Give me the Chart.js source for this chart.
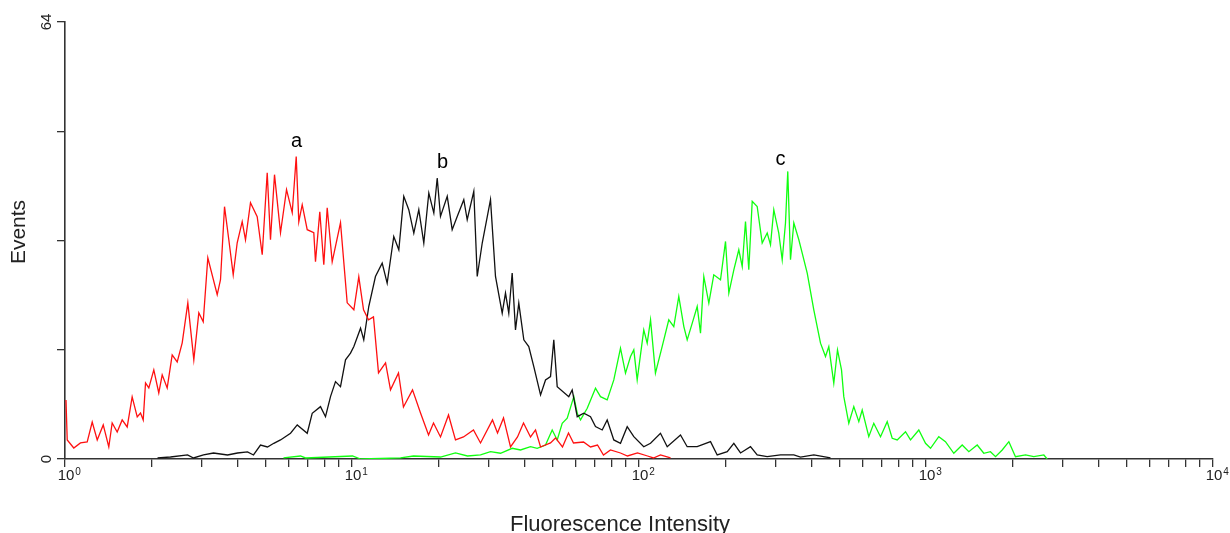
<!DOCTYPE html>
<html>
<head>
<meta charset="utf-8">
<script src="https://cdn.jsdelivr.net/npm/chart.js@4.4.1/dist/chart.umd.min.js"></script>
<style>
  html, body { margin: 0; padding: 0; background: #ffffff; }
  #wrap { width: 1230px; height: 533px; position: relative; }
</style>
</head>
<body>
<div id="wrap"><canvas id="c" width="1230" height="533"></canvas></div>
<script>
// ---- Data (fluorescence intensity, events) ----
const redX = [1.008,1.018,1.073,1.132,1.195,1.244,1.295,1.359,1.421,1.460,
  1.520,1.582,1.647,1.714,1.785,1.833,1.873,1.908,1.959,2.039,
  2.122,2.181,2.270,2.363,2.460,2.561,2.679,2.811,2.926,3.031,
  3.145,3.391,3.482,3.596,3.722,3.856,3.981,4.144,4.255,4.429,
  4.674,4.866,5.065,5.200,5.370,5.635,5.914,6.190,6.392,6.526,
  6.707,6.982,7.360,7.461,7.723,7.975,8.196,8.531,9.119,9.622,
  10.15,10.56,10.97,11.42,11.88,12.37,13.09,13.62,14.52,15.11,
  16.25,17.33,18.48,19.23,20.34,21.69,22.94,24.46,26.50,28.04,
  30.87,32.14,33.72,35.67,37.73,39.59,41.88,43.60,45.39,49.17,
  51.19,54.13,56.80,59.13,64.07,67.77,71.68,75.20,79.55,86.20,
  91.18,98.8,107.1,112.3,118.8,128.8];
const redY = [8.65,2.79,1.61,2.35,2.49,5.42,2.79,4.99,1.76,5.28,
  3.96,5.72,4.69,9.09,6.16,6.74,5.72,11.14,10.41,13.05,
  9.68,12.32,10.41,15.25,14.22,17.01,22.87,14.52,21.41,20.09,
  29.47,24.05,26.25,36.95,32.11,26.98,31.67,34.75,32.11,37.53,
  35.48,29.91,41.93,32.11,41.64,33.14,39.44,36.07,44.28,34.75,
  37.24,33.58,33.14,28.88,36.22,28.44,36.80,28.88,34.60,22.87,
  21.85,26.68,21.85,20.38,20.82,12.61,14.08,10.12,12.61,7.62,
  10.12,6.74,3.52,5.28,3.23,6.45,2.79,3.23,4.25,2.35,
  5.72,3.81,6.01,1.76,3.23,5.28,3.23,4.25,1.76,2.35,
  3.08,1.76,3.81,2.35,2.49,1.76,2.05,0.59,1.32,0.88,
  0.44,0.88,0.44,0.15,0.59,0.15];

const blackX = [2.101,2.331,2.673,2.804,3.038,3.291,3.684,3.991,4.324,4.537,
  4.799,5.077,5.340,5.635,6.107,6.444,6.982,7.267,7.767,8.085,
  8.416,8.760,9.119,9.493,9.881,10.15,10.71,10.99,11.44,12.07,
  12.74,13.26,13.98,14.56,15.15,15.77,16.42,17.09,17.79,18.52,
  19.28,19.81,20.34,21.47,22.34,23.26,24.52,25.20,26.57,27.31,
  28.43,30.38,31.62,33.37,34.26,35.18,36.15,37.12,38.12,39.69,
  41.30,43.00,45.39,47.24,49.17,50.48,51.88,56.93,58.51,60.92,
  64.23,67.77,70.54,74.44,77.48,81.70,86.20,90.97,95.92,103.9,
  109.7,118.8,125.4,139.5,147.2,159.5,177.5,187.3,203.0,214.0,
  225.8,244.6,258.1,279.7,311.2,346.3,365.4,406.5,464.7];
const blackY = [0.15,0.29,0.59,0.15,0.59,0.88,0.59,0.88,1.03,0.59,
  2.05,1.76,2.30,2.79,3.77,4.99,3.77,6.70,7.67,6.20,
  9.13,11.33,10.60,14.52,15.50,16.47,19.16,17.45,22.33,26.73,
  28.69,25.76,32.59,30.64,38.46,36.51,33.09,36.51,31.63,38.96,
  36.02,41.16,35.53,38.46,33.58,35.53,37.97,35.04,39.19,26.73,
  31.63,37.97,26.73,21.36,24.30,21.36,27.23,18.91,22.83,17.45,
  16.47,13.53,9.38,11.58,12.07,17.45,10.60,9.13,10.12,6.20,
  6.70,6.20,4.74,4.25,5.72,2.79,2.30,4.74,3.27,1.80,
  2.30,3.77,1.80,3.52,1.80,1.80,2.54,0.59,1.07,2.30,
  0.88,1.80,0.59,0.34,0.59,0.59,0.29,0.59,0.15];

const greenX = [5.772,6.615,6.887,10.04,10.71,14.76,16.38,20.34,22.94,25.26,
  28.04,30.38,32.92,36.15,38.65,41.88,44.19,47.24,49.84,51.88,
  54.01,56.22,59.28,60.92,62.56,66.01,70.54,73.43,77.48,81.70,
  86.20,89.74,93.41,95.92,98.56,103.9,106.8,109.7,114.1,120.4,
  127.0,132.2,137.6,143.3,147.2,153.3,159.5,163.8,168.2,175.1,
  182.2,192.3,200.2,205.6,214.0,222.7,228.9,235.0,241.3,248.0,
  258.1,268.7,279.7,287.2,294.9,306.9,315.5,323.9,329.9,337.2,
  346.3,360.5,370.4,385.6,406.5,429.0,446.5,458.5,477.2,491.6,
  507.7,517.1,538.3,560.3,583.3,599.4,631.9,657.8,694.2,732.5,
  762.5,793.8,848.4,883.1,943.9,996.1,1037,1108,1169,1250,
  1337,1410,1508,1590,1677,1747,1843,1944,2050,2222,
  2375,2574,2644];
const greenY = [0.15,0.44,0.15,0.44,0,0.15,0.44,0.29,0.88,0.44,
  0.59,1.07,0.84,1.57,1.32,1.80,1.57,2.05,4.25,2.79,
  5.23,5.97,9.13,6.70,5.72,7.43,10.37,9.13,8.65,11.58,
  16.23,12.57,15.00,15.98,11.58,18.91,16.96,20.38,12.57,16.47,
  20.38,19.40,23.80,19.40,17.45,19.90,22.33,18.43,26.73,22.83,
  26.98,26.25,31.86,24.30,27.71,30.64,28.20,34.79,27.71,37.73,
  36.99,31.63,33.09,31.38,36.51,33.09,29.18,34.56,42.12,29.18,
  34.56,32.11,30.16,27.23,21.85,16.96,15.00,16.47,11.10,15.98,
  13.05,9.13,5.23,7.67,5.47,7.18,3.27,5.23,3.27,5.47,
  3.04,2.79,4.00,2.79,4.25,2.30,1.57,3.27,2.54,0.84,
  2.05,1.07,2.05,0.84,1.07,0.34,1.32,2.54,0.34,0.59,
  0.34,0.59,0];

// ---- Axis ticks and labels ----
const xTickValues = [1,2,3,4,5,6,7,8,9,10,20,30,40,50,60,70,80,90,100,
  200,300,400,500,600,700,800,900,1000,2000,3000,4000,5000,6000,7000,8000,9000,10000];
const decadeValues = [1,10,100,1000,10000];
const decadeBase = '10';
const decadeExponents = ['0','1','2','3','4'];
const yTickValues = [0,16,32,48,64];
const yLabelValues = [0,64];
const yLabels = ['0','64'];

// ---- Peak annotations ----
const annotText = ['a','b','c'];
const annotX = [6.41, 20.67, 311];
const annotY = [45.75, 42.66, 43.1];

const xTitle = 'Fluorescence Intensity';
const yTitle = 'Events';

const FONT = '"Liberation Sans", Arial, Helvetica, sans-serif';
const AXIS = '#333333';

function pts(xs, ys) { return xs.map((x, i) => ({ x: x, y: ys[i] })); }

const textPlugin = {
  id: 'texts',
  afterDraw(chart) {
    const ctx = chart.ctx;
    const xs = chart.scales.x, ys = chart.scales.y;
    const area = chart.chartArea;
    ctx.save();
    ctx.fillStyle = '#222222';
    // x tick labels: 10 with raised exponent, placed at the scale's decade ticks
    decadeValues.forEach((v, i) => {
      const px = xs.getPixelForValue(v);
      ctx.font = '15px ' + FONT;
      ctx.textAlign = 'center';
      ctx.textBaseline = 'alphabetic';
      const w = ctx.measureText(decadeBase).width;
      ctx.fillText(decadeBase, px + 1, area.bottom + 21);
      ctx.font = '10px ' + FONT;
      ctx.textAlign = 'left';
      ctx.fillText(decadeExponents[i], px + 1 + w / 2 + 1, area.bottom + 16);
    });
    // y tick labels (rotated)
    ctx.font = '15px ' + FONT;
    ctx.textAlign = 'center';
    ctx.textBaseline = 'middle';
    yLabelValues.forEach((v, i) => {
      const py = ys.getPixelForValue(v);
      ctx.save();
      ctx.translate(area.left - 18, py);
      ctx.rotate(-Math.PI / 2);
      ctx.fillText(yLabels[i], 0, 0);
      ctx.restore();
    });
    // y title
    ctx.font = '21px ' + FONT;
    ctx.save();
    ctx.translate(19, 232);
    ctx.rotate(-Math.PI / 2);
    ctx.fillText(yTitle, 0, 0);
    ctx.restore();
    // x title
    ctx.font = '22px ' + FONT;
    ctx.textBaseline = 'alphabetic';
    ctx.fillText(xTitle, 620, 531);
    // annotations
    ctx.fillStyle = '#000000';
    ctx.font = '20px ' + FONT;
    annotText.forEach((t, i) => {
      ctx.fillText(t, xs.getPixelForValue(annotX[i]), ys.getPixelForValue(annotY[i]));
    });
    ctx.restore();
  }
};

const lineStyle = { borderWidth: 1.3, pointRadius: 0, tension: 0, fill: false };

new Chart(document.getElementById('c'), {
  type: 'line',
  data: {
    datasets: [
      Object.assign({ label: 'a', data: pts(redX, redY), borderColor: '#ff1010' }, lineStyle),
      Object.assign({ label: 'b', data: pts(blackX, blackY), borderColor: '#111111' }, lineStyle),
      Object.assign({ label: 'c', data: pts(greenX, greenY), borderColor: '#10ff10' }, lineStyle)
    ]
  },
  options: {
    responsive: false,
    animation: false,
    layout: { padding: { left: 0, right: 17, top: 22, bottom: 0 } },
    plugins: { legend: { display: false }, tooltip: { enabled: false } },
    scales: {
      x: {
        type: 'logarithmic',
        position: 'bottom',
        min: 1, max: 10000,
        z: 1,
        afterBuildTicks: (s) => { s.ticks = xTickValues.map(v => ({ value: v, major: decadeValues.includes(v) })); },
        afterFit: (s) => { s.height = 74; },
        border: { display: true, color: AXIS, width: 1.6 },
        grid: { display: true, drawOnChartArea: false, drawTicks: true, tickLength: 8, color: AXIS, lineWidth: 1.3 },
        ticks: { display: false, autoSkip: false }
      },
      y: {
        type: 'linear',
        position: 'left',
        min: 0, max: 64,
        z: 1,
        afterBuildTicks: (s) => { s.ticks = yTickValues.map(v => ({ value: v })); },
        afterFit: (s) => { s.width = 65; },
        border: { display: true, color: AXIS, width: 1.6 },
        grid: { display: true, drawOnChartArea: false, drawTicks: true, tickLength: 8, color: AXIS, lineWidth: 1.3 },
        ticks: { display: false }
      }
    }
  },
  plugins: [textPlugin]
});
</script>
</body>
</html>
